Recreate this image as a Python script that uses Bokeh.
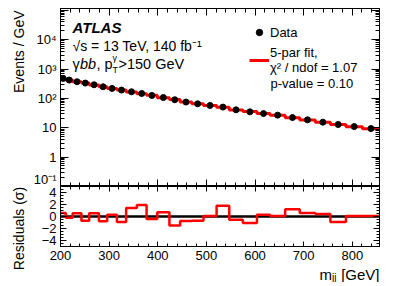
import math
from bokeh.plotting import figure
from bokeh.layouts import column, row
from bokeh.models import (Range1d, FixedTicker, SingleIntervalTicker, Label, Span, Legend,
                          LegendItem, LinearAxis, LogAxis, ColumnDataSource)
from bokeh.embed import file_html
from bokeh.resources import INLINE

# ---------------- data ----------------
bin_edges_gev = [200, 211, 225, 243, 259, 279, 296, 316, 335, 357, 377, 399, 424, 446,
                 470, 494, 521, 547, 575, 604, 631, 662, 692, 724, 755, 787, 821, 856]
data_events_per_gev = [478, 421, 369, 333, 291, 249, 218, 192, 168, 147, 126, 107, 90, 75,
                       65.5, 57.3, 50.5, 40.8, 34.9, 30.5, 26.9, 22.3, 18.6, 15.5, 12.9, 11.0, 9.4]
fit_events_per_gev = [475, 423, 366, 335, 288, 251, 217, 193, 165, 145, 127, 106, 91, 75.5,
                      66, 57, 50, 40.5, 35.5, 30.5, 26.8, 22.1, 18.5, 15.4, 13.0, 10.9, 9.3]
residuals_sigma = [0.6, -0.2, 0.55, -0.7, 0.55, -0.8, 0.3, -0.9, 1.4, 1.9, -0.4, 0.7, -1.5,
                   -0.75, -0.7, 0.1, 1.8, -0.55, -1.1, 0.3, 0.1, 1.2, 0.6, 0.4, -0.9, 0.1, 0.1]
x_tick_values = [200, 300, 400, 500, 600, 700, 800]
y_tick_values = [0.1, 1, 10, 100, 1000, 10000, 100000]
y_tick_labels = ["10⁻¹", "1", "10", "10²", "10³", "10⁴", ""]
res_tick_values = [-4, -2, 0, 2, 4]

X_LO, X_HI = 200, 856
Y_LO, Y_HI = 0.1, 1.15e5
R_LO, R_HI = -5, 5
FONT = "Liberation Sans"

centers = [(a + b) / 2 for a, b in zip(bin_edges_gev[:-1], bin_edges_gev[1:])]
src_pts = ColumnDataSource(dict(x=centers, y=data_events_per_gev))
src_fit = ColumnDataSource(dict(x=bin_edges_gev, y=fit_events_per_gev + fit_events_per_gev[-1:]))
src_res = ColumnDataSource(dict(x=bin_edges_gev, y=residuals_sigma + residuals_sigma[-1:]))

# layout (page pixels; page has no margin)
SIDE_W = 30                  # width of the left title strip
FR_L, FR_R = 60, 379         # frame left / right
TOP_T, TOP_B = 8, 186        # top panel frame
BOT_B = 246                  # residual panel frame bottom
TICKLAB_H = 20               # space for x tick labels
XT_H = 16                    # strip for the x title
TOTAL_H = TOP_B + (BOT_B - TOP_B) + TICKLAB_H + XT_H   # 282
RIGHT_B = 12


def style_axis(ax, tin, min_in, labels=True, size="13px"):
    ax.major_tick_in = tin
    ax.major_tick_out = 0
    ax.minor_tick_in = min_in
    ax.minor_tick_out = 0
    ax.axis_line_color = "black"
    ax.major_tick_line_color = "black"
    ax.minor_tick_line_color = "black"
    ax.major_label_text_font = FONT
    ax.major_label_text_color = "black"
    if labels:
        ax.major_label_text_font_size = size
    else:
        ax.major_label_text_font_size = "0px"
        ax.major_label_text_alpha = 0
        ax.major_label_standoff = 0


def xticker():
    return SingleIntervalTicker(interval=100, num_minor_ticks=5)


def yticker():
    minors = [m * 10.0 ** e for e in range(-1, 5) for m in range(2, 10)]
    return FixedTicker(ticks=y_tick_values, minor_ticks=minors)


def rticker():
    return SingleIntervalTicker(interval=2, num_minor_ticks=4)


def add_label(fig, fr_left, fr_bottom, text, px, py, size, style="normal", align="left",
              baseline="alphabetic", angle=0.0):
    fig.add_layout(Label(x=px - fr_left, y=fr_bottom - py, x_units="screen", y_units="screen",
                         text=text, text_font=FONT, text_font_size=size, text_font_style=style,
                         text_align=align, text_baseline=baseline, angle=angle, text_color="black"))


common = dict(output_backend="svg", toolbar_location=None,
              background_fill_color="white", border_fill_color="white")

# ---------------- top panel ----------------
p = figure(frame_width=FR_R - FR_L, frame_height=TOP_B - TOP_T,
           x_range=Range1d(X_LO, X_HI), y_range=Range1d(Y_LO, Y_HI), y_axis_type="log",
           min_border_left=FR_L - SIDE_W, min_border_right=RIGHT_B,
           min_border_top=TOP_T, min_border_bottom=0,
           outline_line_color="black", outline_line_width=1, **common)
p.xgrid.visible = False
p.ygrid.visible = False
p.xaxis.ticker = xticker()
p.yaxis.ticker = yticker()
p.yaxis.major_label_overrides = {v: t for v, t in zip(y_tick_values, y_tick_labels)}
style_axis(p.xaxis[0], 7, 4, labels=False)
style_axis(p.yaxis[0], 8, 4, labels=True, size="13px")
p.yaxis.major_label_standoff = 4
ax_top = LinearAxis(ticker=xticker())
style_axis(ax_top, 7, 4, labels=False)
p.add_layout(ax_top, "above")
ax_right = LogAxis(ticker=yticker())
style_axis(ax_right, 8, 4, labels=False)
p.add_layout(ax_right, "right")

fit_r = p.step(x="x", y="y", source=src_fit, mode="after", line_color="#ff0000", line_width=3)
pts_r = p.scatter(x="x", y="y", source=src_pts, size=6, color="black")

add_label(p, FR_L, TOP_B, "ATLAS", 72, 27, "15px", style="bold italic")
add_label(p, FR_L, TOP_B, "√s = 13 TeV, 140 fb⁻¹", 72, 45, "14px")
add_label(p, FR_L, TOP_B, "γ", 72, 63, "14.5px")
add_label(p, FR_L, TOP_B, "bb", 79.5, 63, "14.5px", style="italic")
add_label(p, FR_L, TOP_B, ", p", 96, 63, "14.5px")
add_label(p, FR_L, TOP_B, "γ", 112, 57, "9px")
add_label(p, FR_L, TOP_B, "T", 112, 69, "9px")
add_label(p, FR_L, TOP_B, ">150 GeV", 118, 63, "14.5px")
add_label(p, FR_L, TOP_B, "p-value = 0.10", 270, 83, "13px", baseline="middle")

legend = Legend(items=[LegendItem(label="Data", renderers=[pts_r]),
                       LegendItem(label="5-par fit,\nχ² / ndof = 1.07", renderers=[fit_r])],
                location=(189, 111), glyph_width=20, glyph_height=16, label_height=16,
                label_standoff=1, spacing=5, padding=0, margin=0,
                border_line_color=None, background_fill_alpha=0,
                label_text_font=FONT, label_text_font_size="13px", label_text_color="black")
p.add_layout(legend)

# ---------------- residual panel ----------------
pb = figure(frame_width=FR_R - FR_L, frame_height=BOT_B - TOP_B,
            x_range=p.x_range, y_range=Range1d(R_LO, R_HI),
            min_border_left=FR_L - SIDE_W, min_border_right=RIGHT_B,
            min_border_top=0, min_border_bottom=TICKLAB_H,
            outline_line_color="black", outline_line_width=1, **common)
pb.xgrid.visible = False
pb.ygrid.visible = False
pb.xaxis.ticker = xticker()
pb.yaxis.ticker = rticker()
style_axis(pb.xaxis[0], 5, 3, labels=True, size="13px")
pb.xaxis.major_label_standoff = 4
style_axis(pb.yaxis[0], 6, 3, labels=True, size="13px")
pb.yaxis.major_label_standoff = 4
bx_top = LinearAxis(ticker=xticker())
style_axis(bx_top, 5, 3, labels=False)
pb.add_layout(bx_top, "above")
bx_right = LinearAxis(ticker=rticker())
style_axis(bx_right, 6, 3, labels=False)
pb.add_layout(bx_right, "right")

pb.add_layout(Span(location=0, dimension="width", line_color="black", line_width=2.5, level="underlay"))
pb.step(x="x", y="y", source=src_res, mode="after", line_color="#ff0000", line_width=2.5)

# ---------------- x title strip ----------------
px_t = figure(frame_width=FR_R - FR_L, frame_height=XT_H, x_range=Range1d(0, 1), y_range=Range1d(0, 1),
              min_border_left=FR_L - SIDE_W, min_border_right=RIGHT_B, min_border_top=0, min_border_bottom=0,
              x_axis_location=None, y_axis_location=None, outline_line_color=None, **common)
px_t.xgrid.visible = False
px_t.ygrid.visible = False
XT_B = TOTAL_H
add_label(px_t, FR_L, XT_B, "[GeV]", 379, 274, "15px", align="right")
add_label(px_t, FR_L, XT_B, "jj", 336, 277, "10px", align="right")
add_label(px_t, FR_L, XT_B, "m", 331.5, 274, "15px", align="right")

# ---------------- y title strip ----------------
py_t = figure(frame_width=SIDE_W, frame_height=TOTAL_H, x_range=Range1d(0, 1), y_range=Range1d(0, 1),
              min_border_left=0, min_border_right=0, min_border_top=0, min_border_bottom=0,
              x_axis_location=None, y_axis_location=None, outline_line_color=None, **common)
py_t.xgrid.visible = False
py_t.ygrid.visible = False
add_label(py_t, 0, TOTAL_H, "Events / GeV", 18, 10, "14px", align="right", baseline="middle", angle=math.pi / 2)
add_label(py_t, 0, TOTAL_H, "Residuals (σ)", 18, 228, "14px", align="center", baseline="middle", angle=math.pi / 2)

layout = row(py_t, column(p, pb, px_t, spacing=0), spacing=0)
open("out.html", "w").write(file_html(layout, INLINE))
